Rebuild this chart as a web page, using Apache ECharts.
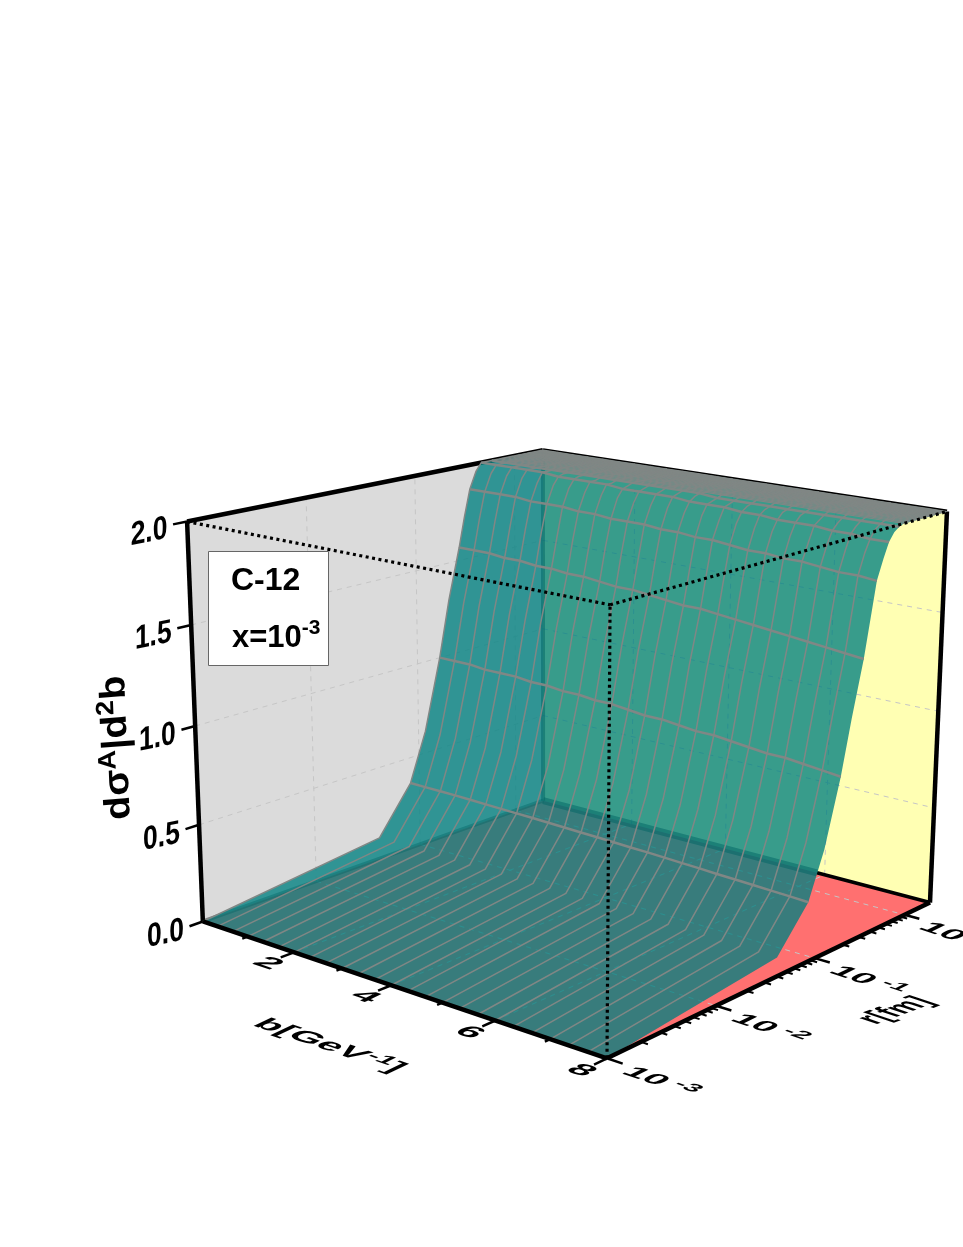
<!DOCTYPE html>
<html>
<head>
<meta charset="utf-8">
<title>C-12</title>
<script src="https://cdn.jsdelivr.net/npm/echarts@6/dist/echarts.min.js"></script>
<style>
  html, body { margin: 0; padding: 0; background: #fff; }
  #chart { width: 963px; height: 1247px; }
</style>
</head>
<body>
<div id="chart"></div>
<script>
// impact parameter of each grid column
const bValues = [0, 0.33, 0.67, 1, 1.33, 1.67, 2, 2.33, 2.67, 3, 3.33, 3.67, 4, 4.33, 4.67, 5, 5.33, 5.67, 6, 6.33, 6.67, 7, 7.33, 7.67, 8]
// dipole size of each grid row, and the height read along each row
const rValues = [0.001, 0.04, 0.082, 0.117, 0.166, 0.208, 0.267, 0.304, 0.346, 0.402, 0.454, 0.514, 0.58]
const zRows = [
  [0, 0, 0, 0, 0, 0, 0, 0, 0, 0, 0, 0, 0, 0, 0, 0, 0, 0, 0, 0, 0, 0, 0, 0, 0],
  [0.115, 0.115, 0.115, 0.114, 0.114, 0.113, 0.112, 0.112, 0.111, 0.11, 0.11, 0.109, 0.108, 0.107, 0.106, 0.105, 0.104, 0.103, 0.102, 0.101, 0.1, 0.099, 0.097, 0.096, 0.095],
  [0.36, 0.359, 0.359, 0.358, 0.356, 0.354, 0.352, 0.35, 0.349, 0.346, 0.344, 0.341, 0.339, 0.336, 0.333, 0.331, 0.328, 0.324, 0.321, 0.317, 0.314, 0.311, 0.307, 0.304, 0.3],
  [0.62, 0.62, 0.62, 0.62, 0.61, 0.61, 0.61, 0.61, 0.6, 0.6, 0.6, 0.59, 0.59, 0.58, 0.58, 0.58, 0.57, 0.57, 0.56, 0.56, 0.55, 0.55, 0.54, 0.54, 0.53],
  [1, 1, 1, 0.99, 0.99, 0.99, 0.98, 0.98, 0.97, 0.97, 0.96, 0.96, 0.95, 0.94, 0.94, 0.93, 0.92, 0.92, 0.91, 0.9, 0.89, 0.89, 0.88, 0.87, 0.86],
  [1.3, 1.3, 1.3, 1.29, 1.29, 1.28, 1.28, 1.27, 1.27, 1.26, 1.25, 1.25, 1.24, 1.23, 1.22, 1.22, 1.21, 1.2, 1.19, 1.18, 1.17, 1.16, 1.15, 1.14, 1.13],
  [1.57, 1.57, 1.57, 1.56, 1.56, 1.55, 1.55, 1.54, 1.54, 1.53, 1.52, 1.52, 1.51, 1.5, 1.49, 1.49, 1.48, 1.47, 1.46, 1.45, 1.44, 1.43, 1.42, 1.41, 1.4],
  [1.73, 1.73, 1.73, 1.72, 1.72, 1.72, 1.71, 1.71, 1.7, 1.7, 1.69, 1.68, 1.68, 1.67, 1.66, 1.66, 1.65, 1.64, 1.63, 1.62, 1.62, 1.61, 1.6, 1.59, 1.58],
  [1.87, 1.87, 1.87, 1.87, 1.86, 1.86, 1.86, 1.85, 1.85, 1.84, 1.84, 1.84, 1.83, 1.83, 1.82, 1.82, 1.81, 1.8, 1.8, 1.79, 1.79, 1.78, 1.77, 1.77, 1.76],
  [1.96, 1.96, 1.96, 1.96, 1.95, 1.95, 1.95, 1.94, 1.94, 1.94, 1.93, 1.93, 1.93, 1.92, 1.92, 1.91, 1.91, 1.9, 1.9, 1.89, 1.88, 1.88, 1.87, 1.87, 1.86],
  [2, 2, 2, 2, 2, 1.99, 1.99, 1.99, 1.99, 1.98, 1.98, 1.98, 1.98, 1.97, 1.97, 1.97, 1.96, 1.96, 1.95, 1.95, 1.95, 1.94, 1.94, 1.93, 1.93],
  [2, 2, 2, 2, 2, 2, 2, 1.99, 1.99, 1.99, 1.99, 1.99, 1.99, 1.99, 1.98, 1.98, 1.98, 1.98, 1.98, 1.98, 1.97, 1.97, 1.97, 1.97, 1.97],
  [2, 2, 2, 2, 2, 2, 2, 2, 2, 2, 2, 2, 2, 2, 1.99, 1.99, 1.99, 1.99, 1.99, 1.99, 1.99, 1.99, 1.99, 1.99, 1.99]
]
// rows that carry a heavy line
const heavyRows = [2, 4, 6, 8, 10, 12]
// flat top of the surface: the height is 2 for all of these r
const plateauR = [0.65, 0.7, 0.75, 0.8, 0.85, 0.9, 0.95, 1, 1.05, 1.1, 1.15, 1.2, 1.25, 1.3, 1.35, 1.4, 1.45, 1.5, 1.55, 1.6, 1.65, 1.7, 1.75, 1.8, 1.85, 1.9, 1.95, 2]
const plateauZ = 2

const zTicks = [0, 0.5, 1, 1.5, 2]
const zTickLabels = ['0.0', '0.5', '1.0', '1.5', '2.0']
const bTicks = [2, 4, 6, 8]
const bMinorTicks = [1, 3, 5, 7]
const rTicks = [0.001, 0.01, 0.1, 1]
const rTickLabels = ['{n|10}{s| -3}', '{n|10}{s| -2}', '{n|10}{s| -1}', '{n|10}{s| 0}']
const rMinorTicks = [0.002, 0.003, 0.004, 0.005, 0.006, 0.007, 0.008, 0.009, 0.02, 0.03, 0.04, 0.05, 0.06, 0.07, 0.08, 0.09, 0.2, 0.3, 0.4, 0.5, 0.6, 0.7, 0.8, 0.9]

const bMin = 0
const bMax = 8
const rMin = 0.001
const rMax = 2
const zMin = 0
const zMax = 2

// where the box corners land on the page: b side, r side, z side, x, y
const boxCorners = [
  [0, 0, 0, 203, 922], [1, 0, 0, 607, 1058], [0, 1, 0, 543, 800], [1, 1, 0, 930, 903],
  [0, 0, 1, 187, 522], [1, 0, 1, 610, 604], [0, 1, 1, 543, 450], [1, 1, 1, 947, 512]
]

const fitProjection = () => {
  const rows = []
  boxCorners.forEach(([X, Y, Z, x, y]) => {
    const px = x / 1000
    const py = y / 1000
    rows.push([X, Y, Z, 1, 0, 0, 0, 0, -px * X, -px * Y, -px * Z, px])
    rows.push([0, 0, 0, 0, X, Y, Z, 1, -py * X, -py * Y, -py * Z, py])
  })
  // normal equations, then plain elimination
  const n = 11
  const m = []
  for (let i = 0; i < n; i++) {
    m.push([])
    for (let j = 0; j <= n; j++) {
      m[i].push(rows.reduce((s, row) => s + row[i] * row[j], 0))
    }
  }
  for (let i = 0; i < n; i++) {
    let pivot = i
    for (let k = i + 1; k < n; k++) {
      if (Math.abs(m[k][i]) > Math.abs(m[pivot][i])) pivot = k
    }
    const tmp = m[i]
    m[i] = m[pivot]
    m[pivot] = tmp
    for (let k = 0; k < n; k++) {
      if (k === i) continue
      const f = m[k][i] / m[i][i]
      for (let j = i; j <= n; j++) m[k][j] -= f * m[i][j]
    }
  }
  return m.map((row, i) => row[n] / row[i])
}
const P = fitProjection()

const rSide = (r) => (Math.log10(r) - Math.log10(rMin)) / (Math.log10(rMax) - Math.log10(rMin))

// b, r side (0..1), z -> page position
const project = (b, t, z) => {
  const X = (b - bMin) / (bMax - bMin)
  const Z = (z - zMin) / (zMax - zMin)
  const w = P[8] * X + P[9] * t + P[10] * Z + 1
  return [
    1000 * (P[0] * X + P[1] * t + P[2] * Z + P[3]) / w,
    1000 * (P[4] * X + P[5] * t + P[6] * Z + P[7]) / w
  ]
}

const GREY_LINE = '#808785'
const GRID_LINE = '#c6c6c6'

const walls = [
  { fill: '#dbdbdb', pts: [[bMin, 0, zMin], [bMin, 0, zMax], [bMin, 1, zMax], [bMin, 1, zMin]] },
  { fill: '#ffffb3', pts: [[bMin, 1, zMin], [bMin, 1, zMax], [bMax, 1, zMax], [bMax, 1, zMin]] },
  { fill: '#ff7070', pts: [[bMin, 0, zMin], [bMax, 0, zMin], [bMax, 1, zMin], [bMin, 1, zMin]] }
]

const seg = (a, b, color, width, dash) => ({ pts: [a, b], color, width, dash })

// dashed grid on the three walls
const gridLines = []
const dash = [5, 5]
;[0.5, 1, 1.5].forEach((z) => {
  gridLines.push(seg([bMin, 0, z], [bMin, 1, z], GRID_LINE, 1, dash))
  gridLines.push(seg([bMin, 1, z], [bMax, 1, z], GRID_LINE, 1, dash))
})
;[2, 4, 6].forEach((b) => {
  gridLines.push(seg([b, 0, zMin], [b, 1, zMin], GRID_LINE, 1, dash))
  gridLines.push(seg([b, 1, zMin], [b, 1, zMax], GRID_LINE, 1, dash))
})
rTicks.slice(1).forEach((r) => {
  gridLines.push(seg([bMin, rSide(r), zMin], [bMin, rSide(r), zMax], GRID_LINE, 1, dash))
  gridLines.push(seg([bMin, rSide(r), zMin], [bMax, rSide(r), zMin], GRID_LINE, 1, dash))
})

// box edges behind the surface, the hidden parts are softer
const backEdges = [
  seg([bMin, 0, zMin], [bMin, 1, zMin], 'rgba(0,0,0,0.4)', 4),
  seg([bMin, 1, zMin], [5.85, 1, zMin], 'rgba(0,0,0,0.5)', 7),
  seg([5.85, 1, zMin], [bMax, 1, zMin], '#000', 3.5),
  seg([bMin, 1, zMin], [bMin, 1, zMax], 'rgba(0,0,0,0.5)', 4),
  seg([bMin, 0, zMin], [bMin, 0, zMax], '#000', 4.5),
  seg([bMin, 0, zMax], [bMin, 1, zMax], '#000', 4.5),
  seg([bMin, 1, zMax], [bMax, 1, zMax], '#000', 4),
  seg([bMax, 1, zMin], [bMax, 1, zMax], '#000', 4.5)
]

// surface rows, low r to high r
const allR = rValues.concat(plateauR)
const allZ = zRows.concat(plateauR.map(() => bValues.map(() => plateauZ)))
const surfacePoint = (i, j) => [bValues[j], rSide(allR[i]), allZ[i][j]]

const outline = []
allR.forEach((_, i) => outline.push(surfacePoint(i, 0)))
bValues.forEach((_, j) => outline.push(surfacePoint(allR.length - 1, j)))
allR.forEach((_, i) => outline.push(surfacePoint(allR.length - 1 - i, bValues.length - 1)))
bValues.forEach((_, j) => outline.push(surfacePoint(0, bValues.length - 1 - j)))

const surfaceLines = []
bValues.forEach((_, j) => {
  if (j === bValues.length - 1) return
  surfaceLines.push({ pts: allR.map((__, i) => surfacePoint(i, j)), color: GREY_LINE, width: 1.5 })
})
heavyRows.forEach((i) => {
  surfaceLines.push({ pts: bValues.map((__, j) => surfacePoint(i, j)), color: GREY_LINE, width: 2.5 })
})
plateauR.forEach((_, k) => {
  const i = rValues.length + k
  surfaceLines.push({ pts: bValues.map((__, j) => surfacePoint(i, j)), color: GREY_LINE, width: 1.2 })
})

// front edges, dotted box, ticks
const frontLines = [
  seg([bMin, 0, zMin], [bMax, 0, zMin], '#000', 4.5),
  seg([bMax, 0, zMin], [bMax, 1, zMin], '#000', 4.5),
  seg([bMin, 0, zMax], [bMax, 0, zMax], '#000', 3.2, [3, 3.5]),
  seg([bMax, 0, zMax], [bMax, 1, zMax], '#000', 3.2, [3, 3.5]),
  seg([bMax, 0, zMin], [bMax, 0, zMax], '#000', 3.2, [3, 3.5])
]
zTicks.forEach((z) => frontLines.push(seg([bMin, 0, z], [bMin, -0.034, z], '#000', 2.5)))
bTicks.forEach((b) => frontLines.push(seg([b, 0, zMin], [b, -0.034, zMin], '#000', 2.5)))
bMinorTicks.forEach((b) => frontLines.push(seg([b, 0, zMin], [b, -0.014, zMin], '#000', 2.5)))
rTicks.forEach((r) => frontLines.push(seg([bMax, rSide(r), zMin], [bMax + 0.27, rSide(r), zMin], '#000', 2.5)))
rMinorTicks.forEach((r) => frontLines.push(seg([bMax, rSide(r), zMin], [bMax + 0.12, rSide(r), zMin], '#000', 2)))

// directions of the box edges on the page, text lies in those planes
const bDir = [404, 136]
const rDir = [323, -155]
const rWallDir = [356, -72]

const labels = []
zTicks.forEach((z, i) => {
  labels.push({ at: [bMin, -0.034, z], dx: -24, dy: 8, text: zTickLabels[i], align: 'center', base: rWallDir, up: [0, -1], emX: 27, emY: 33 })
})
bTicks.forEach((b) => {
  labels.push({ at: [b, -0.034, zMin], dx: -13, dy: 6, text: String(b), align: 'center', base: bDir, up: rDir, emX: 38, emY: 27 })
})
rTicks.forEach((r, i) => {
  labels.push({ at: [bMax + 0.27, rSide(r), zMin], dx: 5, dy: 6, text: rTickLabels[i], align: 'left', base: bDir, up: rDir, emX: 36, emY: 25, supSize: 15 })
})
labels.push({ at: [4, -0.2, zMin], dx: 19, dy: 27, text: '{n|b[GeV}{s|-1}{n|]}', align: 'center', base: bDir, up: rDir, emX: 38, emY: 27, supSize: 15 })
labels.push({ at: [bMax + 1.3, 0.8, zMin], dx: -52, dy: 60, text: '{n|r[fm]}', align: 'center', base: [323, -120], up: [-404, -136], emX: 28, emY: 35 })
labels.push({ at: [bMin, -0.24, 1], dx: 20, dy: -6, text: '{n|dσ}{s|A}{n||d}{s|2}{n|b}', align: 'center', base: [-0.04, -1], up: [-1, 0.08], emX: 39, emY: 36, supSize: 14 })

const FONT = '"Liberation Sans", Arial, sans-serif'

const planeText = (x, y, spec) => {
  const fontSize = 20
  const bLen = Math.hypot(spec.base[0], spec.base[1])
  const uLen = Math.hypot(spec.up[0], spec.up[1])
  const sx = spec.emX / fontSize
  const sy = spec.emY / fontSize
  const Ex = spec.base[0] / bLen * sx
  const Ey = spec.base[1] / bLen * sx
  const Fx = -spec.up[0] / uLen * sy
  const Fy = -spec.up[1] / uLen * sy
  const theta = Math.atan2(-Ey, Ex)
  const c = Math.cos(theta)
  const s = Math.sin(theta)
  const fx = Fx * c - Fy * s
  const fy = Fx * s + Fy * c
  return {
    type: 'text',
    x,
    y,
    rotation: theta,
    scaleX: sx,
    scaleY: fy,
    skewX: Math.atan(fx / fy),
    style: {
      text: spec.text,
      fill: '#000',
      font: 'bold ' + fontSize + 'px ' + FONT,
      textAlign: spec.align,
      textVerticalAlign: 'middle',
      rich: {
        n: { fontSize, fontWeight: 'bold', fontFamily: FONT, fill: '#000', verticalAlign: 'bottom', lineHeight: 22 },
        s: { fontSize: spec.supSize || 12, fontWeight: 'bold', fontFamily: FONT, fill: '#000', verticalAlign: 'top', lineHeight: 22 }
      }
    }
  }
}

const layer = (items, draw, z) => ({
  type: 'custom',
  coordinateSystem: 'cartesian2d',
  data: items.map((_, i) => [i, 0]),
  encode: { x: 0, y: 1 },
  silent: true,
  animation: false,
  clip: false,
  z,
  renderItem: (params, api) => draw(items[params.dataIndex], api)
})

const toPage = (api, p) => api.coord(project(p[0], p[1], p[2]))

const drawPolygon = (item, api) => ({
  type: 'polygon',
  shape: { points: item.pts.map((p) => toPage(api, p)) },
  style: { fill: item.fill, opacity: item.opacity === undefined ? 1 : item.opacity }
})

const drawLine = (item, api) => ({
  type: 'polyline',
  shape: { points: item.pts.map((p) => toPage(api, p)) },
  style: { fill: null, stroke: item.color, lineWidth: item.width, lineDash: item.dash || null, lineCap: 'butt', lineJoin: 'round' }
})

const drawLabel = (item, api) => {
  const p = toPage(api, item.at)
  return planeText(p[0] + item.dx, p[1] + item.dy, item)
}

const chart = echarts.init(document.getElementById('chart'), null, { renderer: 'canvas' })
chart.setOption({
  animation: false,
  backgroundColor: '#fff',
  grid: { left: 0, right: 0, top: 0, bottom: 0 },
  xAxis: { type: 'value', min: 0, max: 963, show: false },
  yAxis: { type: 'value', min: 0, max: 1247, inverse: true, show: false },
  series: [
    layer(walls, drawPolygon, 1),
    layer(gridLines, drawLine, 2),
    layer(backEdges, drawLine, 3),
    layer([{ fill: '#008080', opacity: 0.78, pts: outline }], drawPolygon, 4),
    layer(surfaceLines, drawLine, 5),
    layer(frontLines, drawLine, 6),
    layer(labels, drawLabel, 7)
  ],
  graphic: [
    { type: 'rect', z: 20, shape: { x: 208.5, y: 551.5, width: 120, height: 114 }, style: { fill: '#fff', stroke: '#666', lineWidth: 1 } },
    { type: 'text', z: 21, x: 231, y: 581, style: { text: 'C-12', fill: '#000', font: 'bold 32px ' + FONT, textVerticalAlign: 'middle' } },
    { type: 'text', z: 21, x: 232, y: 636, style: {
      text: '{n|x=10}{s|-3}',
      textVerticalAlign: 'middle',
      rich: {
        n: { fontSize: 31, fontWeight: 'bold', fontFamily: FONT, fill: '#000', verticalAlign: 'bottom', lineHeight: 36 },
        s: { fontSize: 21, fontWeight: 'bold', fontFamily: FONT, fill: '#000', verticalAlign: 'top', lineHeight: 36 }
      }
    } }
  ]
})
</script>
</body>
</html>
